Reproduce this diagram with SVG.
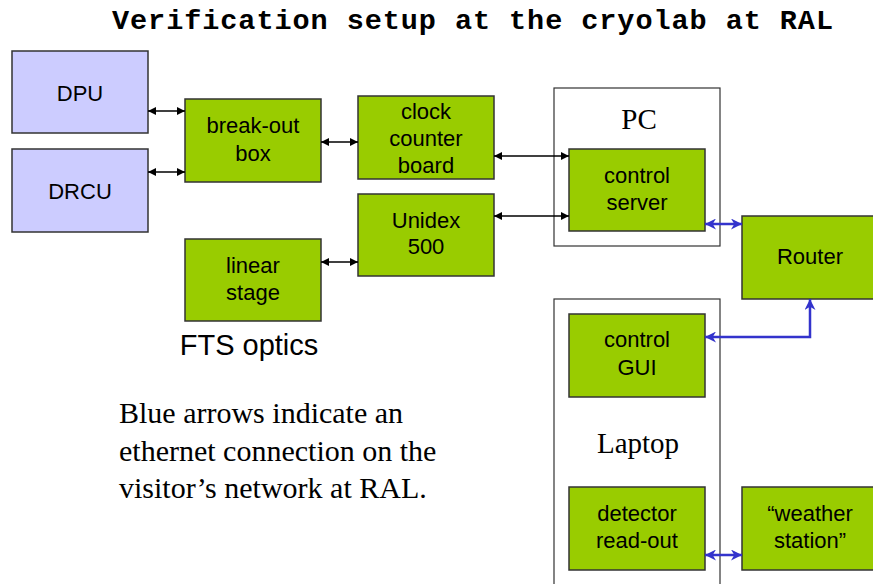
<svg xmlns="http://www.w3.org/2000/svg" width="873" height="584" viewBox="0 0 873 584">
  <style>
    .lav { fill: #CCCCFF; stroke: #333333; stroke-width: 1.5; }
    .grn { fill: #99CC00; stroke: #333333; stroke-width: 1.5; }
    .frame { fill: #FFFFFF; stroke: #333333; stroke-width: 1.2; }
    .lbl { font-family: "Liberation Sans", Arial, sans-serif; font-size: 22px; fill: #000; text-anchor: middle; }
    .serif { font-family: "Liberation Serif", "Times New Roman", serif; font-size: 29px; fill: #000; }
    .note { font-size: 30px; }
    .blk { stroke: #000; stroke-width: 1.3; fill: none; marker-start: url(#ab); marker-end: url(#ab); }
    .blu { stroke: #3333CC; stroke-width: 2.5; fill: none; marker-start: url(#bb); marker-end: url(#bb); }
  </style>
  <defs>
    <marker id="ab" viewBox="0 0 10 10" refX="10" refY="5" markerWidth="8" markerHeight="8" markerUnits="userSpaceOnUse" orient="auto-start-reverse">
      <path d="M0,0 L10,5 L0,10 z" fill="#000"/>
    </marker>
    <marker id="bb" viewBox="0 0 10 10" refX="10" refY="5" markerWidth="11" markerHeight="11" markerUnits="userSpaceOnUse" orient="auto-start-reverse">
      <path d="M0,0 L10,5 L0,10 L3,5 z" fill="#3333CC"/>
    </marker>
  </defs>

  <text x="112" y="29" font-family="'Liberation Mono', 'Courier New', monospace" font-weight="bold" font-size="28.5" textLength="721" lengthAdjust="spacing">Verification setup at the cryolab at RAL</text>

  <!-- computer enclosures -->
  <g id="pc">
    <rect class="frame" x="554" y="88" width="166" height="158"/>
    <text class="serif" x="639" y="129" text-anchor="middle">PC</text>
  </g>
  <g id="laptop">
    <rect class="frame" x="554" y="299" width="166" height="300"/>
    <text class="serif" x="638" y="453" text-anchor="middle">Laptop</text>
  </g>

  <g id="dpu">
    <rect class="lav" x="12" y="51" width="136" height="82"/>
    <text class="lbl" x="80" y="101">DPU</text>
  </g>
  <g id="drcu">
    <rect class="lav" x="12" y="149" width="136" height="83"/>
    <text class="lbl" x="80" y="199">DRCU</text>
  </g>
  <g id="breakout">
    <rect class="grn" x="185" y="99" width="136" height="83"/>
    <text class="lbl" x="253" y="133">break-out</text>
    <text class="lbl" x="253" y="161">box</text>
  </g>
  <g id="clock">
    <rect class="grn" x="358" y="96" width="136" height="83"/>
    <text class="lbl" x="426" y="119">clock</text>
    <text class="lbl" x="426" y="146">counter</text>
    <text class="lbl" x="426" y="173">board</text>
  </g>
  <g id="unidex">
    <rect class="grn" x="358" y="194" width="136" height="82"/>
    <text class="lbl" x="426" y="228">Unidex</text>
    <text class="lbl" x="426" y="254">500</text>
  </g>
  <g id="linear">
    <rect class="grn" x="185" y="239" width="136" height="82"/>
    <text class="lbl" x="253" y="273">linear</text>
    <text class="lbl" x="253" y="300">stage</text>
    <text x="249" y="355" font-family="'Liberation Sans', Arial, sans-serif" font-size="29" text-anchor="middle">FTS optics</text>
  </g>
  <g id="server">
    <rect class="grn" x="569" y="149" width="136" height="82"/>
    <text class="lbl" x="637" y="183">control</text>
    <text class="lbl" x="637" y="210">server</text>
  </g>
  <g id="router">
    <rect class="grn" x="742" y="216" width="136" height="83"/>
    <text class="lbl" x="810" y="264">Router</text>
  </g>
  <g id="gui">
    <rect class="grn" x="569" y="314" width="136" height="83"/>
    <text class="lbl" x="637" y="347">control</text>
    <text class="lbl" x="637" y="375">GUI</text>
  </g>
  <g id="readout">
    <rect class="grn" x="569" y="487" width="136" height="83"/>
    <text class="lbl" x="637" y="521">detector</text>
    <text class="lbl" x="637" y="548">read-out</text>
  </g>
  <g id="weather">
    <rect class="grn" x="742" y="487" width="136" height="83"/>
    <text class="lbl" x="810" y="521">“weather</text>
    <text class="lbl" x="810" y="548">station”</text>
  </g>

  <g id="note">
    <text class="serif note" x="119" y="423">Blue arrows indicate an</text>
    <text class="serif note" x="119" y="461">ethernet connection on the</text>
    <text class="serif note" x="119" y="498">visitor’s network at RAL.</text>
  </g>

  <g id="connectors">
    <path class="blk" d="M148,111 H185"/>
    <path class="blk" d="M148,172 H185"/>
    <path class="blk" d="M321,142 H358"/>
    <path class="blk" d="M321,262 H358"/>
    <path class="blk" d="M494,156 H569"/>
    <path class="blk" d="M494,216 H569"/>
    <path class="blu" d="M705,224 H742"/>
    <path class="blu" d="M705,337 H810 V299"/>
    <path class="blu" d="M705,555 H742"/>
  </g>
</svg>
